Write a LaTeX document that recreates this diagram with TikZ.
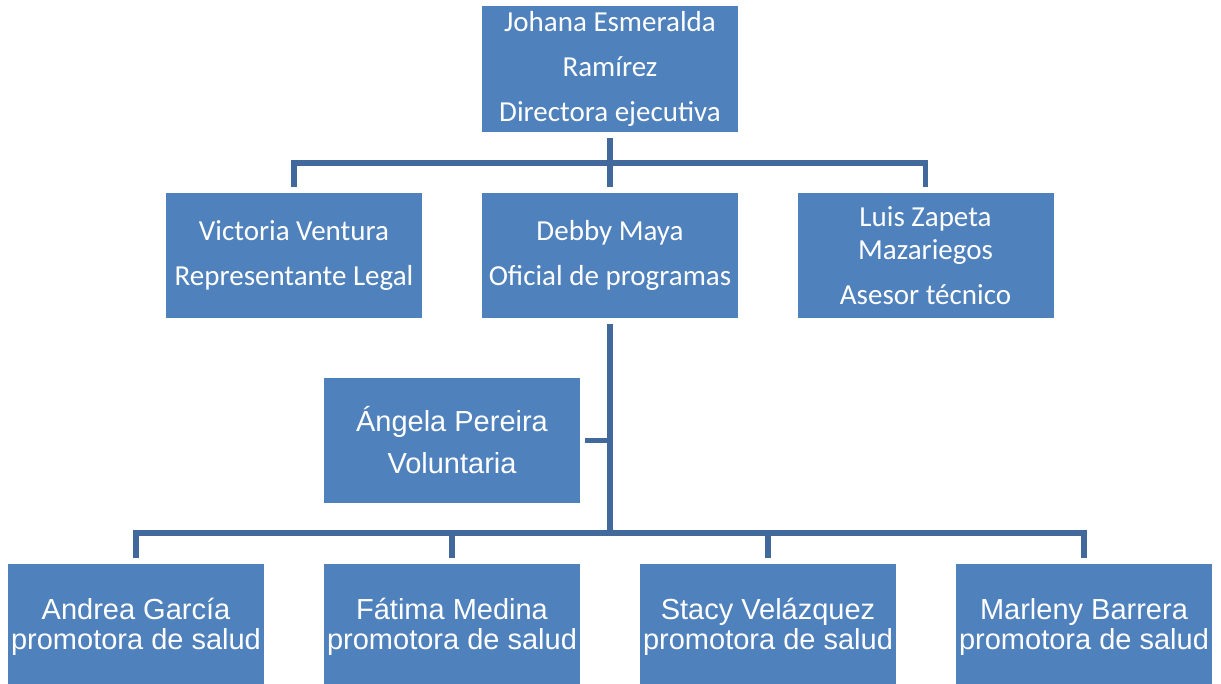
\documentclass[tikz,border=0pt]{standalone}
\usepackage{fontspec}
\newfontfamily\calibrifont{Carlito}
\newfontfamily\arialfont{Liberation Sans}
\definecolor{boxblue}{HTML}{4F81BD}
\definecolor{lineblue}{HTML}{41699C}
\tikzset{
  orgbox/.style = {fill = boxblue, text = white, inner sep = 0pt, align = center,
    minimum width = 256pt, minimum height = 125pt},
  cbox/.style = {orgbox, font = \calibrifont\fontsize{29}{45}\selectfont},
  abox/.style = {orgbox, font = \arialfont\fontsize{29}{30}\selectfont},
  conn/.style = {draw = lineblue, line width = 5.5pt}
}
\begin{document}
\begin{tikzpicture}[x = 1pt, y = -1pt]
        \useasboundingbox (0,0) rectangle (1221,683);
        \clip (0,0) rectangle (1221,683);

        \node [cbox, minimum height = 126pt] (dir) at (610,69) {Johana Esmeralda\\Ramírez\\Directora ejecutiva};

        \node [cbox] (vv) at (294,255.5) {Victoria Ventura\\Representante Legal};
        \node [cbox] (dm) at (610,255.5) {Debby Maya\\Oficial de programas};
        \node [cbox, font = \calibrifont\fontsize{29}{33}\selectfont] (lz) at (925.5,255.5) {Luis Zapeta\\Mazariegos\\[12pt]Asesor técnico};

        \node [abox, font = \arialfont\fontsize{29}{42}\selectfont] (ap) at (452,440.5) {Ángela Pereira\\Voluntaria};

        \node [abox] (ag) at (136,626.5) {Andrea García\\promotora de salud};
        \node [abox] (fm) at (452,626.5) {Fátima Medina\\promotora de salud};
        \node [abox] (sv) at (768,626.5) {Stacy Velázquez\\promotora de salud};
        \node [abox] (mb) at (1084,626.5) {Marleny Barrera\\promotora de salud};

        \coordinate (bus1) at (0,163);
        \coordinate (bus2) at (0,533);

        % first level
        \draw [conn, shorten <= 6pt, shorten >= 6pt] (dir.south) -- (dm.north);
        \draw [conn, shorten <= 6pt, shorten >= 6pt] (vv.north) -- (vv.north |- bus1) -- (lz.north |- bus1) -- (lz.north);

        % second level
        \draw [conn, shorten <= 6pt] (dm.south) -- (dm.south |- bus2);
        \draw [conn, shorten <= 5pt] (ap.east) -- (dm.south |- ap.east);
        \draw [conn, shorten <= 6pt, shorten >= 6pt] (ag.north) -- (ag.north |- bus2) -- (mb.north |- bus2) -- (mb.north);
        \draw [conn, shorten >= 6pt] (fm.north |- bus2) -- (fm.north);
        \draw [conn, shorten >= 6pt] (sv.north |- bus2) -- (sv.north);
\end{tikzpicture}
\end{document}
